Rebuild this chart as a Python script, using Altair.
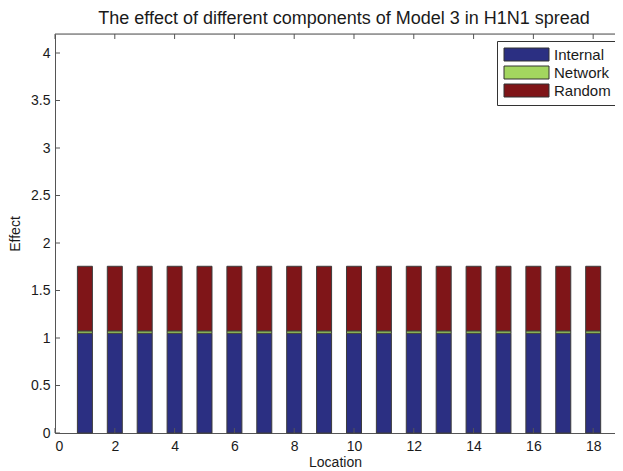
import altair as alt
import pandas as pd

locations = list(range(1, 19))
components = ["Internal", "Network", "Random"]
internal = [1.05] * 18
network = [0.025] * 18
random_part = [0.68] * 18
colors = ["#2B2F82", "#A3D65F", "#7F1518"]
x_ticks = list(range(0, 19, 2))
y_ticks = [0, 0.5, 1, 1.5, 2, 2.5, 3, 3.5, 4]

rows = []
for i, loc in enumerate(locations):
    for k, (name, vals) in enumerate(zip(components, [internal, network, random_part])):
        rows.append({"Location": loc, "Component": name, "Value": vals[i], "ord": k})
df = pd.DataFrame(rows)
xt = pd.DataFrame({"t": x_ticks})
yt = pd.DataFrame({"t": y_ticks})

FONT = "Liberation Sans"
TXT = "#1a1a1a"
AX = "#555555"
W, H = 560, 399
XMAX = 18.73

xscale = alt.Scale(domain=[0, XMAX], nice=False, zero=False, padding=0)
yscale = alt.Scale(domain=[0, 4.2], nice=False, padding=0)

bars = alt.Chart(df).mark_bar(size=15, stroke="#3c3c3c", strokeWidth=1).encode(
    x=alt.X("Location:Q", scale=xscale,
            axis=alt.Axis(values=x_ticks, orient="bottom", ticks=False, domain=True,
                          domainColor=AX, grid=False, labelPadding=6, title="Location",
                          titlePadding=2, labelFont=FONT, labelFontSize=14, labelColor=TXT,
                          titleFont=FONT, titleFontSize=14, titleFontWeight="normal",
                          titleColor=TXT, format="d")),
    y=alt.Y("Value:Q", stack="zero", scale=yscale,
            axis=alt.Axis(values=y_ticks, orient="left", ticks=False, domain=True,
                          domainColor=AX, grid=False, labelPadding=5, title="Effect",
                          titleX=-33, labelFont=FONT, labelFontSize=14, labelColor=TXT,
                          titleFont=FONT, titleFontSize=14, titleFontWeight="normal",
                          titleColor=TXT, format="~g")),
    color=alt.Color("Component:N", scale=alt.Scale(domain=components, range=colors),
                    legend=alt.Legend(title=None, orient="none", legendX=442, legendY=7,
                                      symbolType="M-3.4615,-1H3.4615V1H-3.4615Z",
                                      symbolSize=169, symbolOffset=16,
                                      symbolStrokeColor="#333333", symbolStrokeWidth=1,
                                      symbolOpacity=1,
                                      labelFont=FONT, labelFontSize=15, labelColor=TXT,
                                      labelOffset=20, rowPadding=1, padding=6,
                                      fillColor="white", strokeColor="#333333",
                                      cornerRadius=0)),
    order=alt.Order("ord:Q"),
)

left_ticks = alt.Chart(yt).mark_rule(color=AX, strokeWidth=1).encode(
    y=alt.Y("t:Q", scale=yscale, axis=None),
    x=alt.value(0), x2=alt.value(5),
)
bottom_ticks = alt.Chart(xt).mark_rule(color=AX, strokeWidth=1).encode(
    x=alt.X("t:Q", scale=xscale, axis=None),
    y=alt.value(H - 5), y2=alt.value(H),
)
top_ticks = alt.Chart(xt).mark_rule(color=AX, strokeWidth=1).encode(
    x=alt.X("t:Q", scale=xscale, axis=None),
    y=alt.value(0), y2=alt.value(5),
)
top_line = alt.Chart(pd.DataFrame({"a": [0]})).mark_rule(color=AX, strokeWidth=1).encode(
    x=alt.value(0), x2=alt.value(W + 10), y=alt.value(0),
)

chart = alt.layer(bars, left_ticks, bottom_ticks, top_ticks, top_line).resolve_axis(
    x="independent", y="independent"
).properties(
    width=W,
    height=H,
    autosize=alt.AutoSizeParams(type="none"),
    padding={"left": 47, "top": 26, "right": 0, "bottom": 38},
    title=alt.TitleParams("The effect of different components of Model 3 in H1N1 spread",
                          font=FONT, fontSize=18, fontWeight="normal", color=TXT,
                          anchor="middle", dx=9, offset=6),
).configure_view(stroke=None).configure(background="white")

chart.save("out.html", embed_options={"renderer": "svg", "actions": False})
